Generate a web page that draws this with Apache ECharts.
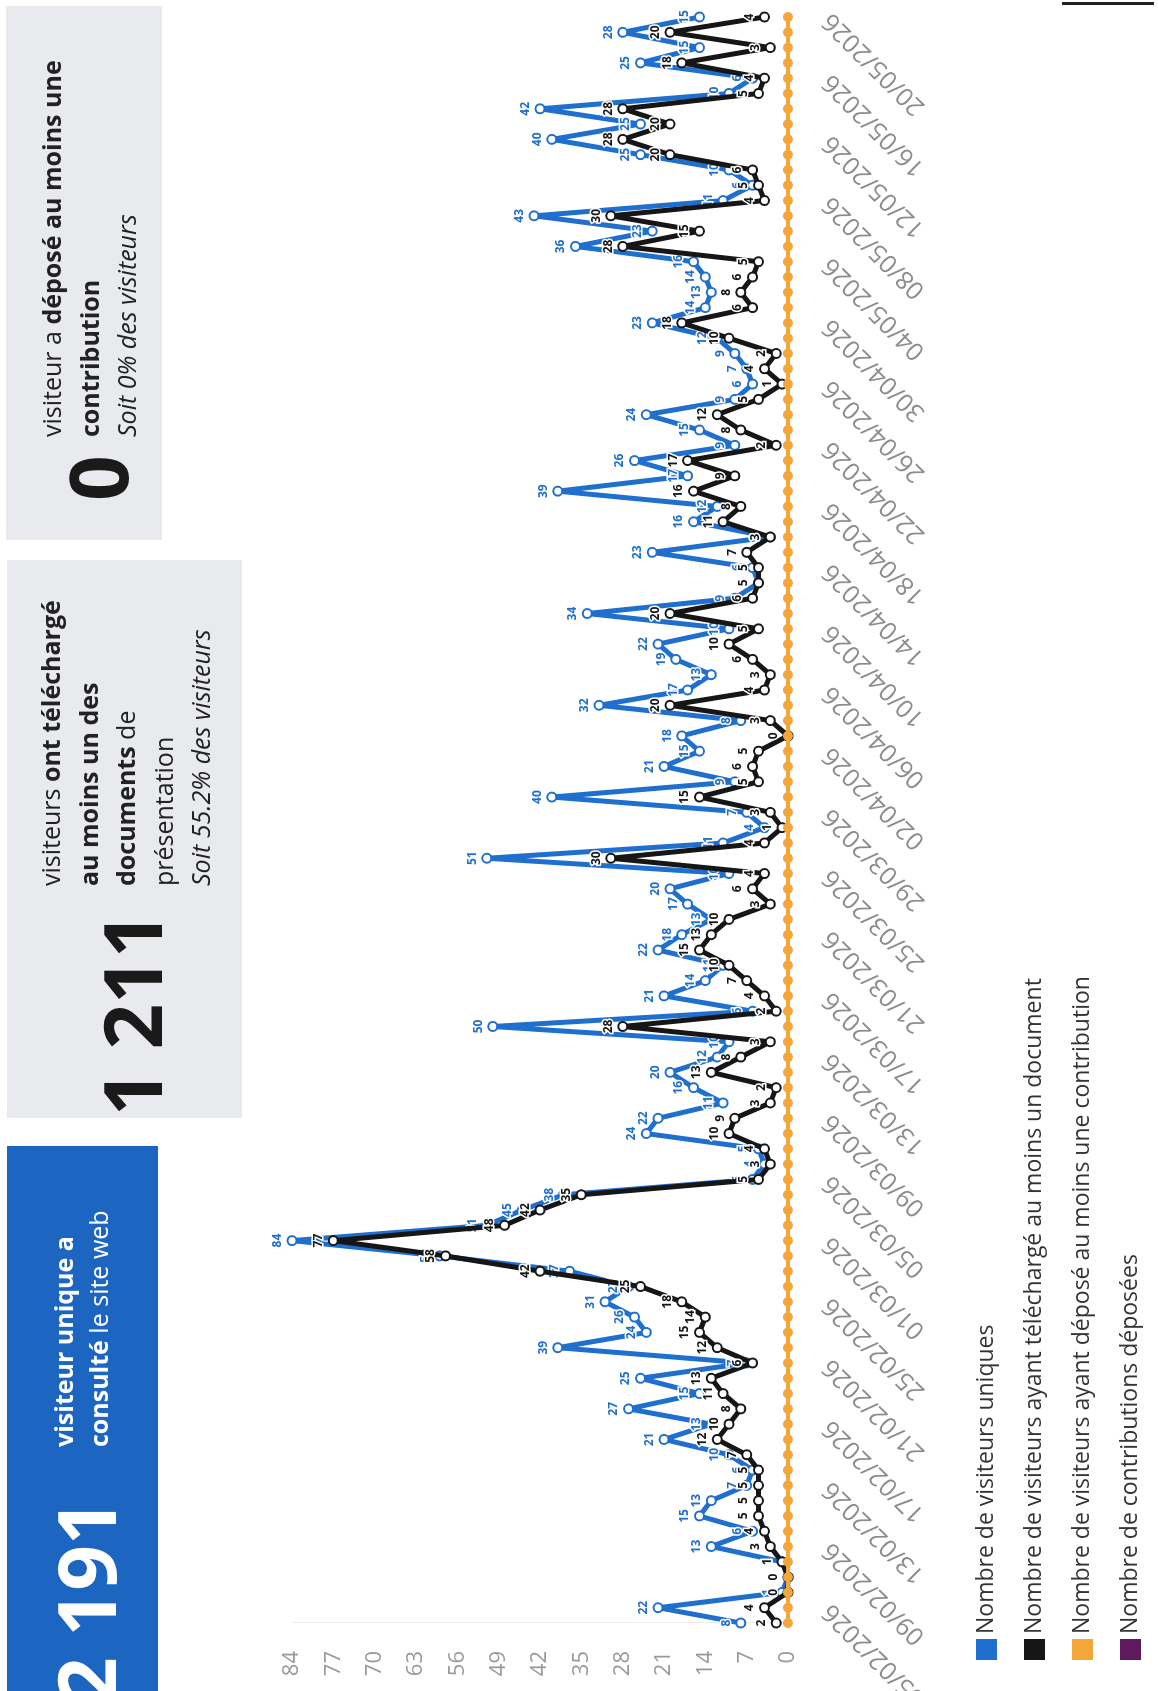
<!DOCTYPE html>
<html><head><meta charset="utf-8">
<script src="https://cdn.jsdelivr.net/npm/echarts/dist/echarts.min.js"></script>
<style>
html,body{margin:0;padding:0;background:#fff;width:1158px;height:1691px;overflow:hidden;}
#page{position:absolute;left:0;top:0;width:1691px;height:1158px;transform-origin:0 0;transform:translate(0px,1691px) rotate(-90deg);font-family:'Open Sans',sans-serif;color:#222;}
#chart{position:absolute;left:0;top:0;width:1691px;height:1158px;}
.box{position:absolute;}
.big{position:absolute;font-weight:700;font-size:80px;line-height:80px;white-space:nowrap;}
.txt{position:absolute;font-size:25px;line-height:37.5px;white-space:nowrap;}
.txt b{font-weight:700;}
</style></head>
<body>
<div id="page">
  <div id="chart"></div>
  <div class="box" style="left:0;top:7px;width:545px;height:151px;background:#1c66c2;"></div>
  <div class="big" style="left:-12px;top:45px;color:#fff;">2 191</div>
  <div class="txt" style="left:244px;top:46px;color:#fff;line-height:35px;"><b>visiteur unique a</b><br><b>consulté</b> le site web</div>

  <div class="box" style="left:573px;top:7px;width:558px;height:235px;background:#e8eaed;"></div>
  <div class="big" style="left:575px;top:91px;color:#1a1a1a;">1 211</div>
  <div class="txt" style="left:805px;top:32px;">visiteurs <b>ont téléchargé</b><br><b>au moins un des</b><br><b>documents</b> de<br>présentation<br><i>Soit 55.2% des visiteurs</i></div>

  <div class="box" style="left:1151px;top:6px;width:534px;height:156px;background:#e8eaed;"></div>
  <div class="big" style="left:1190px;top:57px;color:#1a1a1a;">0</div>
  <div class="txt" style="left:1254px;top:33px;">visiteur a <b>déposé au moins une</b><br><b>contribution</b><br><i>Soit 0% des visiteurs</i></div>

  <div class="box" style="left:1686px;top:1062px;width:3px;height:92px;background:#222;"></div>
</div>
<script>
const dates = [
"04/02/2026","05/02/2026","06/02/2026","07/02/2026","08/02/2026","09/02/2026","10/02/2026","11/02/2026","12/02/2026","13/02/2026",
"14/02/2026","15/02/2026","16/02/2026","17/02/2026","18/02/2026","19/02/2026","20/02/2026","21/02/2026","22/02/2026","23/02/2026",
"24/02/2026","25/02/2026","26/02/2026","27/02/2026","28/02/2026","01/03/2026","02/03/2026","03/03/2026","04/03/2026","05/03/2026",
"06/03/2026","07/03/2026","08/03/2026","09/03/2026","10/03/2026","11/03/2026","12/03/2026","13/03/2026","14/03/2026","15/03/2026",
"16/03/2026","17/03/2026","18/03/2026","19/03/2026","20/03/2026","21/03/2026","22/03/2026","23/03/2026","24/03/2026","25/03/2026",
"26/03/2026","27/03/2026","28/03/2026","29/03/2026","30/03/2026","31/03/2026","01/04/2026","02/04/2026","03/04/2026","04/04/2026",
"05/04/2026","06/04/2026","07/04/2026","08/04/2026","09/04/2026","10/04/2026","11/04/2026","12/04/2026","13/04/2026","14/04/2026",
"15/04/2026","16/04/2026","17/04/2026","18/04/2026","19/04/2026","20/04/2026","21/04/2026","22/04/2026","23/04/2026","24/04/2026",
"25/04/2026","26/04/2026","27/04/2026","28/04/2026","29/04/2026","30/04/2026","01/05/2026","02/05/2026","03/05/2026","04/05/2026",
"05/05/2026","06/05/2026","07/05/2026","08/05/2026","09/05/2026","10/05/2026","11/05/2026","12/05/2026","13/05/2026","14/05/2026",
"15/05/2026","16/05/2026","17/05/2026","18/05/2026","19/05/2026","20/05/2026"];

const uniqueVisitors = [
8,22,1,0,1,13,6,15,13,7,
6,10,21,13,27,15,25,7,39,24,
26,31,27,37,59,84,51,45,38,6,
4,5,24,22,11,16,20,12,10,50,
6,21,14,11,22,18,13,17,20,10,
51,11,4,7,40,9,21,15,18,8,
32,17,13,19,22,10,34,9,5,6,
23,3,16,12,39,17,26,9,15,24,
9,6,7,9,12,23,14,13,14,16,
36,23,43,11,6,10,25,40,25,42,
10,6,25,15,28,15];

const downloaders = [
2,4,0,0,1,3,4,5,5,5,
5,7,12,10,8,11,13,6,12,15,
14,18,25,42,58,77,48,42,35,5,
3,4,10,9,3,2,13,8,3,28,
2,4,7,10,15,13,10,3,6,4,
30,4,1,3,15,5,6,5,0,3,
20,4,3,6,10,5,20,6,5,5,
7,3,11,8,16,9,17,2,8,12,
5,1,4,2,10,18,6,8,6,5,
28,15,30,4,5,6,20,28,20,28,
5,4,18,3,20,4];

const contributors = [
0,0,0,0,0,0,0,0,0,0, 0,0,0,0,0,0,0,0,0,0, 0,0,0,0,0,0,0,0,0,0,
0,0,0,0,0,0,0,0,0,0, 0,0,0,0,0,0,0,0,0,0, 0,0,0,0,0,0,0,0,0,0,
0,0,0,0,0,0,0,0,0,0, 0,0,0,0,0,0,0,0,0,0, 0,0,0,0,0,0,0,0,0,0,
0,0,0,0,0,0,0,0,0,0, 0,0,0,0,0,0];

const contributions = [
0,0,0,0,0,0,0,0,0,0, 0,0,0,0,0,0,0,0,0,0, 0,0,0,0,0,0,0,0,0,0,
0,0,0,0,0,0,0,0,0,0, 0,0,0,0,0,0,0,0,0,0, 0,0,0,0,0,0,0,0,0,0,
0,0,0,0,0,0,0,0,0,0, 0,0,0,0,0,0,0,0,0,0, 0,0,0,0,0,0,0,0,0,0,
0,0,0,0,0,0,0,0,0,0, 0,0,0,0,0,0];

const seriesNames = [
"Nombre de visiteurs uniques",
"Nombre de visiteurs ayant téléchargé au moins un document",
"Nombre de visiteurs ayant déposé au moins une contribution",
"Nombre de contributions déposées"];

const BLUE = '#1f6fcf', BLACK = '#161616', ORANGE = '#f5a63a', PURPLE = '#5e1a5c';

function lineSeries(name, data, color, z, showLabel){
  return {
    name: name, type: 'line', data: data, z: z,
    symbol: 'emptyCircle', symbolSize: 9, showAllSymbol: true,
    lineStyle: {width: 5, color: color},
    itemStyle: {color: color, borderWidth: 2},
    label: {show: showLabel, position: 'top', distance: 3, fontSize: 12, fontWeight: 'bold',
            color: color, textBorderColor: '#fff', textBorderWidth: 3, fontFamily: 'Open Sans'}
  };
}

const chart = echarts.init(document.getElementById('chart'), null, {renderer: 'canvas'});
chart.setOption({
  animation: false,
  textStyle: {fontFamily: 'Open Sans'},
  legend: {
    orient: 'vertical', left: 26, top: 970, itemWidth: 21, itemHeight: 21, itemGap: 25,
    icon: 'rect', data: seriesNames,
    textStyle: {fontSize: 23, color: '#333', fontFamily: 'Open Sans'}
  },
  grid: {left: 68, right: 17, top: 292, bottom: 370, containLabel: false, outerBoundsMode: 'none'},
  xAxis: {
    type: 'category', data: dates, boundaryGap: false,
    axisLine: {show: false}, axisTick: {show: false},
    axisLabel: {interval: function(i){ return i % 4 === 1; }, rotate: 45, fontSize: 25, color: '#8c8c8c', margin: 39, fontFamily: 'Open Sans'}
  },
  yAxis: {
    type: 'value', min: 0, max: 84, interval: 7,
    axisLine: {show: true, lineStyle: {color: '#ececec'}},
    splitLine: {show: false},
    axisLabel: {fontSize: 22, color: '#9a9a9a', margin: 28, fontFamily: 'Open Sans'}
  },
  series: [
    lineSeries(seriesNames[0], uniqueVisitors, BLUE, 3, true),
    lineSeries(seriesNames[1], downloaders, BLACK, 4, true),
    Object.assign(lineSeries(seriesNames[2], contributors, ORANGE, 5, false),
      {symbol: 'circle', symbolSize: 10, lineStyle: {width: 4, color: ORANGE}}),
    Object.assign(lineSeries(seriesNames[3], contributions, PURPLE, 1, false),
      {symbol: 'circle', symbolSize: 6, lineStyle: {width: 2, color: PURPLE}})
  ]
});
</script>
</body></html>
